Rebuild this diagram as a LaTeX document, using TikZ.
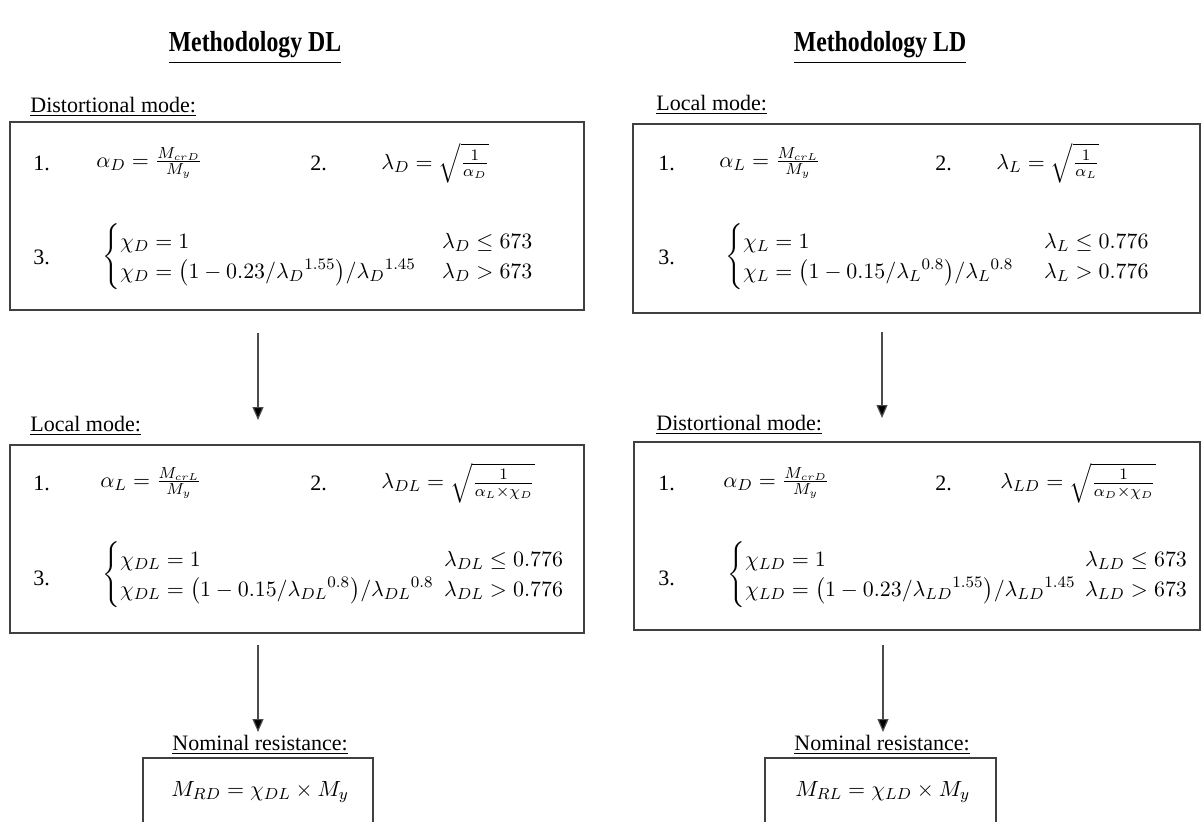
\documentclass[tikz,border=0pt]{standalone}
\usepackage{amsmath}
\usepackage{amssymb}
\usepackage{graphicx}
\usepackage{fontspec}
\setmainfont{Liberation Serif}
\usetikzlibrary{arrows.meta, positioning}

\begin{document}
\begin{tikzpicture}[x=0.5pt, y=-0.5pt,
    box/.style={rectangle, draw=black!75, line width=0.9pt, inner sep=0pt},
    ttl/.style={font=\bfseries\fontsize{14.5}{16}\selectfont, inner sep=0pt},
    lbl/.style={anchor=west, font=\fontsize{11}{13}\selectfont, inner sep=0pt},
    num/.style={anchor=west, font=\fontsize{11}{13}\selectfont, inner sep=0pt},
    eqn/.style={anchor=west, font=\fontsize{11}{12.5}\selectfont, inner sep=0pt},
    arr/.style={-{Triangle[length=6.5pt, width=5.5pt, fill=black]}, draw=black!70, line width=0.6pt}
]
    \useasboundingbox (0,0) rectangle (1203,821);
    \clip (0,0) rectangle (1203,821);

    % Titles
    \node[ttl] (tDL) at (255,48) {\scalebox{0.82}[1]{\underline{Methodology DL}}};
    \node[ttl] (tLD) at (880,48) {\scalebox{0.82}[1]{\underline{Methodology LD}}};

    % Methodology DL, distortional mode
    \node[lbl] (lDL1) at (30,107) {\underline{Distortional mode:}};
    \node[box, minimum width=287pt, minimum height=94pt] (bDL1) at (297,216) {};
    \node[num] (nDL11) at (33,163) {1.};
    \node[eqn] (eDL11) at (96,163) {$\alpha_D = \frac{M_{crD}}{M_y}$};
    \node[num] (nDL12) at (310,163) {2.};
    \node[eqn] (eDL12) at (381,163) {$\lambda_D = \sqrt{\frac{1}{\alpha_D}}$};
    \node[num] (nDL13) at (33,257) {3.};
    \node[eqn] (eDL13) at (102,257) {$\begin{cases}
        \makebox[150pt][l]{$\chi_D = 1$} & \lambda_D \leq 673\\
        \makebox[150pt][l]{$\chi_D = \bigl(1-0.23/{\lambda_D}^{1.55}\bigr)/{\lambda_D}^{1.45}$} & \lambda_D > 673
    \end{cases}$};

    % Methodology DL, local mode
    \node[lbl] (lDL2) at (30,426) {\underline{Local mode:}};
    \node[box, minimum width=287pt, minimum height=94pt] (bDL2) at (297,539) {};
    \node[num] (nDL21) at (33,483) {1.};
    \node[eqn] (eDL21) at (100,483) {$\alpha_L = \frac{M_{crL}}{M_y}$};
    \node[num] (nDL22) at (310,483) {2.};
    \node[eqn] (eDL22) at (381,483) {$\lambda_{DL} = \sqrt{\frac{1}{\alpha_L\times\chi_D}}$};
    \node[num] (nDL23) at (33,578) {3.};
    \node[eqn] (eDL23) at (102,575) {$\begin{cases}
        \makebox[151pt][l]{$\chi_{DL} = 1$} & \lambda_{DL} \leq 0.776\\
        \makebox[151pt][l]{$\chi_{DL} = \bigl(1-0.15/{\lambda_{DL}}^{0.8}\bigr)/{\lambda_{DL}}^{0.8}$} & \lambda_{DL} > 0.776
    \end{cases}$};

    % Methodology DL, nominal resistance
    \node[lbl] (lDL3) at (172,745) {\underline{Nominal resistance:}};
    \node[box, minimum width=115pt, minimum height=46pt] (bDL3) at (258,804) {};
    \node[eqn] (eDL3) at (171,792) {$M_{RD} = \chi_{DL}\times M_y$};

    % Methodology LD, local mode
    \node[lbl] (lLD1) at (656,105) {\underline{Local mode:}};
    \node[box, minimum width=283.5pt, minimum height=94.5pt] (bLD1) at (916.5,218.5) {};
    \node[num] (nLD11) at (658,163) {1.};
    \node[eqn] (eLD11) at (719,163) {$\alpha_L = \frac{M_{crL}}{M_y}$};
    \node[num] (nLD12) at (935,163) {2.};
    \node[eqn] (eLD12) at (996,163) {$\lambda_L = \sqrt{\frac{1}{\alpha_L}}$};
    \node[num] (nLD13) at (658,257) {3.};
    \node[eqn] (eLD13) at (725,257) {$\begin{cases}
        \makebox[139.5pt][l]{$\chi_L = 1$} & \lambda_L \leq 0.776\\
        \makebox[139.5pt][l]{$\chi_L = \bigl(1-0.15/{\lambda_L}^{0.8}\bigr)/{\lambda_L}^{0.8}$} & \lambda_L > 0.776
    \end{cases}$};

    % Methodology LD, distortional mode
    \node[lbl] (lLD2) at (656,425) {\underline{Distortional mode:}};
    \node[box, minimum width=283pt, minimum height=94pt] (bLD2) at (917,536) {};
    \node[num] (nLD21) at (658,483) {1.};
    \node[eqn] (eLD21) at (723,483) {$\alpha_D = \frac{M_{crD}}{M_y}$};
    \node[num] (nLD22) at (935,483) {2.};
    \node[eqn] (eLD22) at (1000,483) {$\lambda_{LD} = \sqrt{\frac{1}{\alpha_D\times\chi_D}}$};
    \node[num] (nLD23) at (658,578) {3.};
    \node[eqn] (eLD23) at (727,575) {$\begin{cases}
        \makebox[159pt][l]{$\chi_{LD} = 1$} & \lambda_{LD} \leq 673\\
        \makebox[159pt][l]{$\chi_{LD} = \bigl(1-0.23/{\lambda_{LD}}^{1.55}\bigr)/{\lambda_{LD}}^{1.45}$} & \lambda_{LD} > 673
    \end{cases}$};

    % Methodology LD, nominal resistance
    \node[lbl] (lLD3) at (794,745) {\underline{Nominal resistance:}};
    \node[box, minimum width=115.5pt, minimum height=46pt] (bLD3) at (880.5,804) {};
    \node[eqn] (eLD3) at (795,792) {$M_{RL} = \chi_{LD}\times M_y$};

    % Arrows
    \coordinate (aDL1s) at (258,333);
    \coordinate (aDL1e) at (258,420);
    \coordinate (aDL2s) at (258,645);
    \coordinate (aDL2e) at (258,732);
    \coordinate (aLD1s) at (882,332);
    \coordinate (aLD1e) at (882,418);
    \coordinate (aLD2s) at (883,645);
    \coordinate (aLD2e) at (883,732);
    \draw[arr] (aDL1s) -- (aDL1e);
    \draw[arr] (aDL2s) -- (aDL2e);
    \draw[arr] (aLD1s) -- (aLD1e);
    \draw[arr] (aLD2s) -- (aLD2e);
\end{tikzpicture}
\end{document}
